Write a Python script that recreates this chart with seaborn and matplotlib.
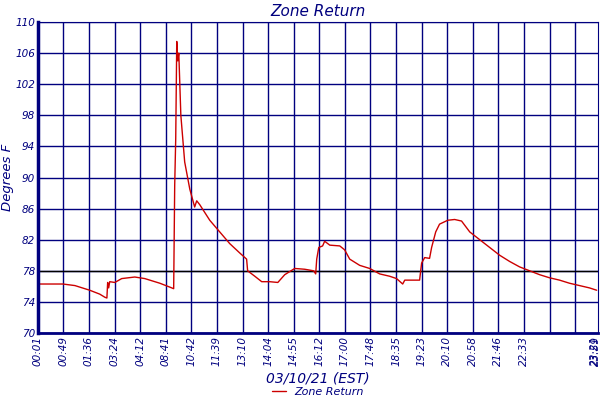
import matplotlib
matplotlib.use("Agg")
import matplotlib.pyplot as plt
import pandas as pd
import seaborn as sns

# sample position (tick index units) and temperature
pos = [0, 0.98, 1.45, 2.03, 2.42, 2.62, 2.70, 2.73, 2.77, 2.81, 3.01, 3.28, 3.79, 4.18,
       4.77, 5.16, 5.31, 5.35, 5.39, 5.43, 5.47, 5.51, 5.59, 5.74, 5.94, 6.13, 6.21, 6.33,
       6.72, 7.11, 7.50, 7.89, 8.16, 8.20, 8.48, 8.75, 9.06, 9.38, 9.65, 10.04, 10.43,
       10.78, 10.86, 10.90, 10.98, 11.13, 11.21, 11.41, 11.80, 11.99, 12.19, 12.58, 12.97,
       13.36, 13.75, 14.02, 14.26, 14.34, 14.73, 14.92, 15.00, 15.12, 15.31, 15.39, 15.55,
       15.70, 16.02, 16.29, 16.56, 16.88, 17.27, 17.66, 18.05, 18.44, 18.83, 19.22, 19.61,
       20.0, 20.39, 20.78, 21.17, 21.56, 21.84]
temp = [76.3, 76.3, 76.1, 75.5, 75.0, 74.6, 74.5, 76.5, 75.8, 76.6, 76.5, 77.0, 77.2, 77.0,
        76.4, 75.9, 75.7, 89.0, 95.0, 107.5, 105.0, 106.0, 98.0, 92.0, 88.5, 86.2, 87.0, 86.5,
        84.5, 83.0, 81.5, 80.3, 79.5, 78.0, 77.3, 76.6, 76.6, 76.5, 77.5, 78.3, 78.2,
        78.0, 77.6, 79.5, 81.0, 81.2, 81.8, 81.3, 81.2, 80.7, 79.5, 78.7, 78.3,
        77.6, 77.3, 77.0, 76.3, 76.8, 76.8, 76.8, 79.0, 79.7, 79.6, 81.0, 83.0,
        84.0, 84.5, 84.6, 84.4, 83.0, 82.0, 81.0, 80.0, 79.2, 78.5, 78.0, 77.5,
        77.1, 76.8, 76.4, 76.1, 75.8, 75.5]
tick_labels = ["00:01", "00:49", "01:36", "03:24", "04:12", "08:41", "10:42", "11:39",
               "13:10", "14:04", "14:55", "16:12", "17:00", "17:48", "18:35", "19:23",
               "20:10", "20:58", "21:46", "22:33"]
end_labels = ["23:21", "23:59"]
y_ticks = [70, 74, 78, 82, 86, 90, 94, 98, 102, 106, 110]

navy = "#00007f"
sns.set_style("white")
plt.rcParams['font.family'] = ['DejaVu Sans']

df = pd.DataFrame({"pos": pos, "temp": temp})

fig = plt.figure(figsize=(6, 4), dpi=100)
ax = fig.add_axes([0.063, 0.1675, 0.934, 0.7775])
for i in range(22):
    ax.axvline(i, color=navy, lw=1, zorder=0)
for v in y_ticks:
    ax.axhline(v, color=navy, lw=1, zorder=0)
ax.axhline(78, color="black", lw=1, zorder=1)

sns.lineplot(data=df, x="pos", y="temp", ax=ax, color="#cc0000", lw=1, label="Zone Return", zorder=2)

ax.set_xlim(0, 21.9)
ax.set_ylim(70, 110)
ax.set_yticks(y_ticks)
ax.set_yticklabels([str(v) for v in y_ticks], fontsize=7.5, style="italic", color=navy)
xt = list(range(len(tick_labels))) + [21.78, 21.82]
ax.set_xticks(xt)
ax.set_xticklabels(tick_labels + end_labels, rotation=90, fontsize=7.5, style="italic", color=navy)
ax.tick_params(length=0, pad=2)
for s in ax.spines.values():
    s.set_color(navy)
ax.spines["left"].set_linewidth(2.5)
ax.spines["bottom"].set_linewidth(2)

ax.set_title("Zone Return", fontsize=11, style="italic", color=navy, pad=4)
ax.set_xlabel("03/10/21 (EST)", fontsize=10, style="italic", color=navy, labelpad=4)
ax.set_ylabel("Degrees F", fontsize=9.5, style="italic", color=navy, labelpad=1)
ax.legend(loc="center", bbox_to_anchor=(0.5, -0.19), frameon=False,
          labelcolor=navy, handlelength=1.2, prop={"style": "italic", "size": 8})

fig.savefig("out.png", dpi=100, facecolor="white")
